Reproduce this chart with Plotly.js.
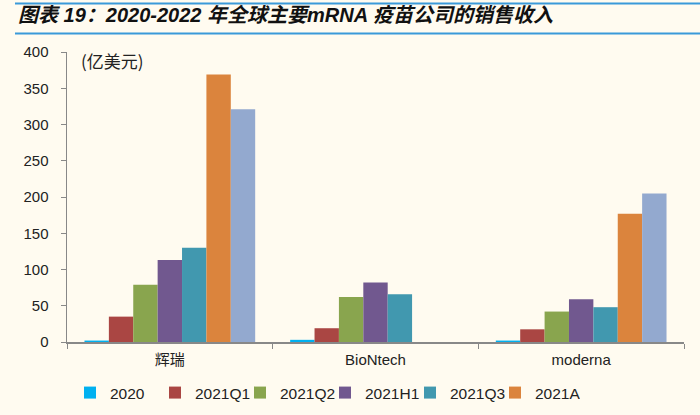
<!DOCTYPE html>
<html>
<head>
<meta charset="utf-8">
<script src="https://cdn.plot.ly/plotly-3.0.1.min.js"></script>
<style>html,body{margin:0;padding:0;background:#FFFBF0;}#chart{width:700px;height:415px;}</style>
</head>
<body>
<div id="chart"></div>
<script>
const categories = ['辉瑞', 'BioNtech', 'moderna'];
const seriesNames = ['2020', '2021Q1', '2021Q2', '2021H1', '2021Q3', '2021A', '2022E'];
const v2020   = [2, 3, 2];
const v2021Q1 = [35, 19, 17.5];
const v2021Q2 = [79, 62, 42];
const v2021H1 = [113, 82, 59];
const v2021Q3 = [130, 66, 48];
const v2021A  = [369, null, 177];
const v2022E  = [321, null, 205];
const colors = ['#00B0F0', '#AA4643', '#89A54E', '#71588F', '#4198AF', '#DB843D', '#93A9CF'];
const allValues = [v2020, v2021Q1, v2021Q2, v2021H1, v2021Q3, v2021A, v2022E];

const traces = allValues.map((vals, i) => ({
  type: 'bar',
  name: seriesNames[i],
  x: categories,
  y: vals,
  marker: {color: colors[i]},
  showlegend: i < 6
}));

const layout = {
  width: 700, height: 415,
  paper_bgcolor: '#FFFBF0',
  plot_bgcolor: '#FFFBF0',
  margin: {l: 67, r: 16, t: 52, b: 73},
  barmode: 'group',
  bargap: 0.17,
  bargroupgap: 0,
  font: {family: 'Liberation Sans, Arial, sans-serif', size: 15, color: '#222'},
  xaxis: {
    type: 'category',
    showline: true, linecolor: '#888', linewidth: 1.5,
    ticks: 'outside', tickson: 'boundaries', ticklen: 5, tickcolor: '#888',
    tickfont: {family: 'Liberation Sans, Noto Sans CJK SC, sans-serif', size: 15, color: '#222'},
    ticklabelstandoff: 3,
    showgrid: false
  },
  yaxis: {
    range: [0, 400], dtick: 50,
    showline: true, linecolor: '#888', linewidth: 1.5,
    ticks: 'outside', ticklen: 5, tickcolor: '#888',
    ticklabelstandoff: 9,
    showgrid: false, zeroline: false,
    tickfont: {size: 15, color: '#222'}
  },
  legend: {
    orientation: 'h', xref: 'container', yref: 'container',
    x: 0.1, y: 0.053, yanchor: 'middle', xanchor: 'left',
    font: {size: 15.5, color: '#222'}, bgcolor: 'rgba(0,0,0,0)',
    itemwidth: 30, entrywidthmode: 'pixels', entrywidth: 40
  },
  shapes: [
    {type: 'line', xref: 'paper', yref: 'paper', x0: -0.0843, x1: 1.03, y0: 1.1675, y1: 1.1675, line: {color: '#3A9AD9', width: 2}},
    {type: 'line', xref: 'paper', yref: 'paper', x0: -0.0843, x1: 1.03, y0: 1.064, y1: 1.064, line: {color: '#3A9AD9', width: 2}}
  ],
  annotations: [
    {text: '<b><i>图表 19：2020-2022 年全球主要mRNA 疫苗公司的销售收入</i></b>', xref: 'paper', yref: 'paper',
     x: -0.082, y: 1.126, xanchor: 'left', yanchor: 'middle', showarrow: false,
     font: {family: 'Liberation Sans, Noto Sans CJK SC, sans-serif', size: 20, color: '#111'}},
    {text: '(亿美元)', xref: 'paper', yref: 'paper', x: 0.019, y: 0.97, xanchor: 'left', yanchor: 'middle', showarrow: false,
     font: {family: 'Noto Sans CJK SC, sans-serif', size: 17, color: '#222'}}
  ]
};

Plotly.newPlot('chart', traces, layout, {displayModeBar: false, staticPlot: true});
</script>
</body>
</html>
